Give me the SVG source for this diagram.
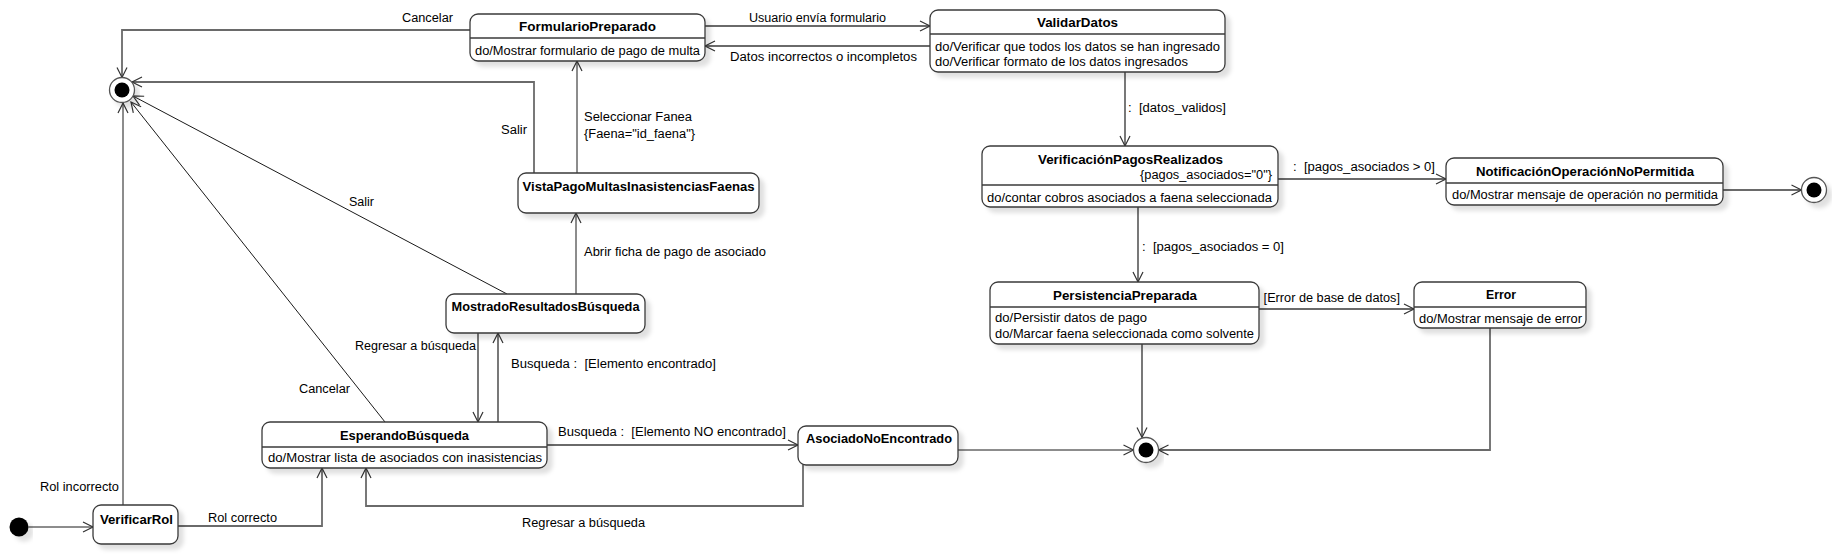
<svg xmlns="http://www.w3.org/2000/svg" width="1837" height="555" viewBox="0 0 1837 555">
<style>
text{font-family:"Liberation Sans",Arial,sans-serif;font-size:12px;fill:#000;white-space:pre}
.n{font-weight:bold;text-anchor:middle}
.box{fill:#fff;stroke:#3a3a3a;stroke-width:1.3;filter:url(#sh)}
.div{stroke:#3a3a3a;stroke-width:1.3}
.g{fill:none;stroke:#6a6a6a;stroke-width:1.8;marker-end:url(#ah)}
.t{fill:none;stroke:#1a1a1a;stroke-width:1;marker-end:url(#ah)}
.fo{fill:#fff;stroke:#555;stroke-width:1.3;filter:url(#sh)}
</style>
<defs>
<filter id="sh" x="-10%" y="-20%" width="130%" height="160%">
<feDropShadow dx="5" dy="5" stdDeviation="2" flood-color="#000" flood-opacity="0.12"/>
</filter>
<marker id="ah" markerUnits="userSpaceOnUse" markerWidth="14" markerHeight="14" refX="11" refY="6" orient="auto">
<path d="M1,1 L11,6 L1,11" fill="none" stroke="#333" stroke-width="1.2"/>
</marker>
</defs>

<g id="connectors">
<path class="t" d="M28.5,527 H93"/>
<path class="t" d="M123,505 V103"/>
<text x="40" y="491" textLength="79" lengthAdjust="spacingAndGlyphs">Rol incorrecto</text>
<path class="g" d="M178,526 H322 V468"/>
<text x="208" y="522" textLength="69" lengthAdjust="spacingAndGlyphs">Rol correcto</text>
<path class="t" d="M385,422 L131,102"/>
<text x="299" y="393" textLength="51" lengthAdjust="spacingAndGlyphs">Cancelar</text>
<path class="g" d="M498,422 V333"/>
<text x="511" y="368" textLength="205" lengthAdjust="spacingAndGlyphs">Busqueda :  [Elemento encontrado]</text>
<path class="g" d="M478,333 V422"/>
<text x="355" y="350" textLength="121" lengthAdjust="spacingAndGlyphs">Regresar a búsqueda</text>
<path class="g" d="M547,445 H798"/>
<text x="558" y="436" textLength="228" lengthAdjust="spacingAndGlyphs">Busqueda :  [Elemento NO encontrado]</text>
<path class="g" d="M803,465 V506 H366 V468"/>
<text x="522" y="527" textLength="123" lengthAdjust="spacingAndGlyphs">Regresar a búsqueda</text>
<path class="t" d="M958,450 H1133.5"/>
<path class="t" d="M576,294 V213"/>
<text x="584" y="256" textLength="182" lengthAdjust="spacingAndGlyphs">Abrir ficha de pago de asociado</text>
<path class="t" d="M507,294 L133,96"/>
<text x="349" y="206" textLength="25" lengthAdjust="spacingAndGlyphs">Salir</text>
<path class="t" d="M577,173 V61"/>
<text x="584" y="121" textLength="108" lengthAdjust="spacingAndGlyphs">Seleccionar Fanea</text>
<text x="584" y="138" textLength="111" lengthAdjust="spacingAndGlyphs">{Faena="id_faena"}</text>
<path class="g" d="M534,173 V82 H132"/>
<text x="501" y="134" textLength="26" lengthAdjust="spacingAndGlyphs">Salir</text>
<path class="g" d="M470,30 H122 V77.5"/>
<text x="402" y="22" textLength="51" lengthAdjust="spacingAndGlyphs">Cancelar</text>
<path class="g" d="M705,26 H930"/>
<text x="749" y="22" textLength="137" lengthAdjust="spacingAndGlyphs">Usuario envía formulario</text>
<path class="g" d="M930,46 H705"/>
<text x="730" y="61" textLength="187" lengthAdjust="spacingAndGlyphs">Datos incorrectos o incompletos</text>
<path class="g" d="M1125,72 V146"/>
<text x="1128" y="112" textLength="98" lengthAdjust="spacingAndGlyphs">:  [datos_validos]</text>
<path class="g" d="M1278,179 H1446"/>
<text x="1293" y="171" textLength="142" lengthAdjust="spacingAndGlyphs">:  [pagos_asociados &gt; 0]</text>
<path class="g" d="M1723,190 H1801.5"/>
<path class="g" d="M1138,207 V282"/>
<text x="1142" y="251" textLength="142" lengthAdjust="spacingAndGlyphs">:  [pagos_asociados = 0]</text>
<path class="g" d="M1259,309 H1414"/>
<text x="1253" y="302" textLength="147" lengthAdjust="spacingAndGlyphs">:  [Error de base de datos]</text>
<path class="g" d="M1142,344 V437.5"/>
<path class="g" d="M1490,328 V450 H1158.5"/>
</g>

<g id="initial"><circle cx="19" cy="527" r="9.5" fill="#000" filter="url(#sh)"/></g>
<g id="final1"><circle class="fo" cx="122" cy="90" r="12.5"/><circle cx="122" cy="90" r="7.5" fill="#000"/></g>
<g id="final2"><circle class="fo" cx="1146" cy="450" r="12.5"/><circle cx="1146" cy="450" r="7.5" fill="#000"/></g>
<g id="final3"><circle class="fo" cx="1814" cy="190" r="12.5"/><circle cx="1814" cy="190" r="7.5" fill="#000"/></g>

<g id="FormularioPreparado">
<rect class="box" x="470" y="14" width="235" height="47" rx="8"/>
<line class="div" x1="470" y1="38" x2="705" y2="38"/>
<text class="n" x="587.5" y="31" textLength="137" lengthAdjust="spacingAndGlyphs">FormularioPreparado</text>
<text x="475" y="55" textLength="225" lengthAdjust="spacingAndGlyphs">do/Mostrar formulario de pago de multa</text>
</g>

<g id="ValidarDatos">
<rect class="box" x="930" y="10" width="295" height="62" rx="8"/>
<line class="div" x1="930" y1="34" x2="1225" y2="34"/>
<text class="n" x="1077.5" y="27" textLength="81" lengthAdjust="spacingAndGlyphs">ValidarDatos</text>
<text x="935" y="51" textLength="285" lengthAdjust="spacingAndGlyphs">do/Verificar que todos los datos se han ingresado</text>
<text x="935" y="66" textLength="253" lengthAdjust="spacingAndGlyphs">do/Verificar formato de los datos ingresados</text>
</g>

<g id="VistaPagoMultasInasistenciasFaenas">
<rect class="box" x="518" y="173" width="241" height="40" rx="8"/>
<text class="n" x="638.5" y="191" textLength="232" lengthAdjust="spacingAndGlyphs">VistaPagoMultasInasistenciasFaenas</text>
</g>

<g id="MostradoResultadosBusqueda">
<rect class="box" x="446" y="294" width="199" height="39" rx="8"/>
<text class="n" x="545.5" y="311" textLength="188" lengthAdjust="spacingAndGlyphs">MostradoResultadosBúsqueda</text>
</g>

<g id="EsperandoBusqueda">
<rect class="box" x="262" y="422" width="285" height="46" rx="8"/>
<line class="div" x1="262" y1="447" x2="547" y2="447"/>
<text class="n" x="404.5" y="440" textLength="129" lengthAdjust="spacingAndGlyphs">EsperandoBúsqueda</text>
<text x="268" y="462" textLength="274" lengthAdjust="spacingAndGlyphs">do/Mostrar lista de asociados con inasistencias</text>
</g>

<g id="VerificarRol">
<rect class="box" x="93" y="505" width="85" height="39" rx="8"/>
<text class="n" x="136.5" y="524" textLength="73" lengthAdjust="spacingAndGlyphs">VerificarRol</text>
</g>

<g id="AsociadoNoEncontrado">
<rect class="box" x="798" y="426" width="160" height="39" rx="8"/>
<text class="n" x="879" y="443" textLength="146" lengthAdjust="spacingAndGlyphs">AsociadoNoEncontrado</text>
</g>

<g id="VerificacionPagosRealizados">
<rect class="box" x="982" y="146" width="296" height="61" rx="8"/>
<line class="div" x1="982" y1="185" x2="1278" y2="185"/>
<text class="n" x="1130.5" y="164" textLength="185" lengthAdjust="spacingAndGlyphs">VerificaciónPagosRealizados</text>
<text x="1140" y="179" textLength="132" lengthAdjust="spacingAndGlyphs">{pagos_asociados="0"}</text>
<text x="987" y="202" textLength="285" lengthAdjust="spacingAndGlyphs">do/contar cobros asociados a faena seleccionada</text>
</g>

<g id="NotificacionOperacionNoPermitida">
<rect class="box" x="1446" y="158" width="277" height="47" rx="8"/>
<line class="div" x1="1446" y1="183" x2="1723" y2="183"/>
<text class="n" x="1585" y="176" textLength="218" lengthAdjust="spacingAndGlyphs">NotificaciónOperaciónNoPermitida</text>
<text x="1452" y="199" textLength="266" lengthAdjust="spacingAndGlyphs">do/Mostrar mensaje de operación no permitida</text>
</g>

<g id="PersistenciaPreparada">
<rect class="box" x="990" y="282" width="269" height="62" rx="8"/>
<line class="div" x1="990" y1="307" x2="1259" y2="307"/>
<text class="n" x="1125" y="300" textLength="144" lengthAdjust="spacingAndGlyphs">PersistenciaPreparada</text>
<text x="995" y="322" textLength="152" lengthAdjust="spacingAndGlyphs">do/Persistir datos de pago</text>
<text x="995" y="338" textLength="259" lengthAdjust="spacingAndGlyphs">do/Marcar faena seleccionada como solvente</text>
</g>

<g id="Error">
<rect class="box" x="1414" y="282" width="172" height="46" rx="8"/>
<line class="div" x1="1414" y1="307" x2="1586" y2="307"/>
<text class="n" x="1501" y="299" textLength="30" lengthAdjust="spacingAndGlyphs">Error</text>
<text x="1419" y="323" textLength="163" lengthAdjust="spacingAndGlyphs">do/Mostrar mensaje de error</text>
</g>
</svg>
